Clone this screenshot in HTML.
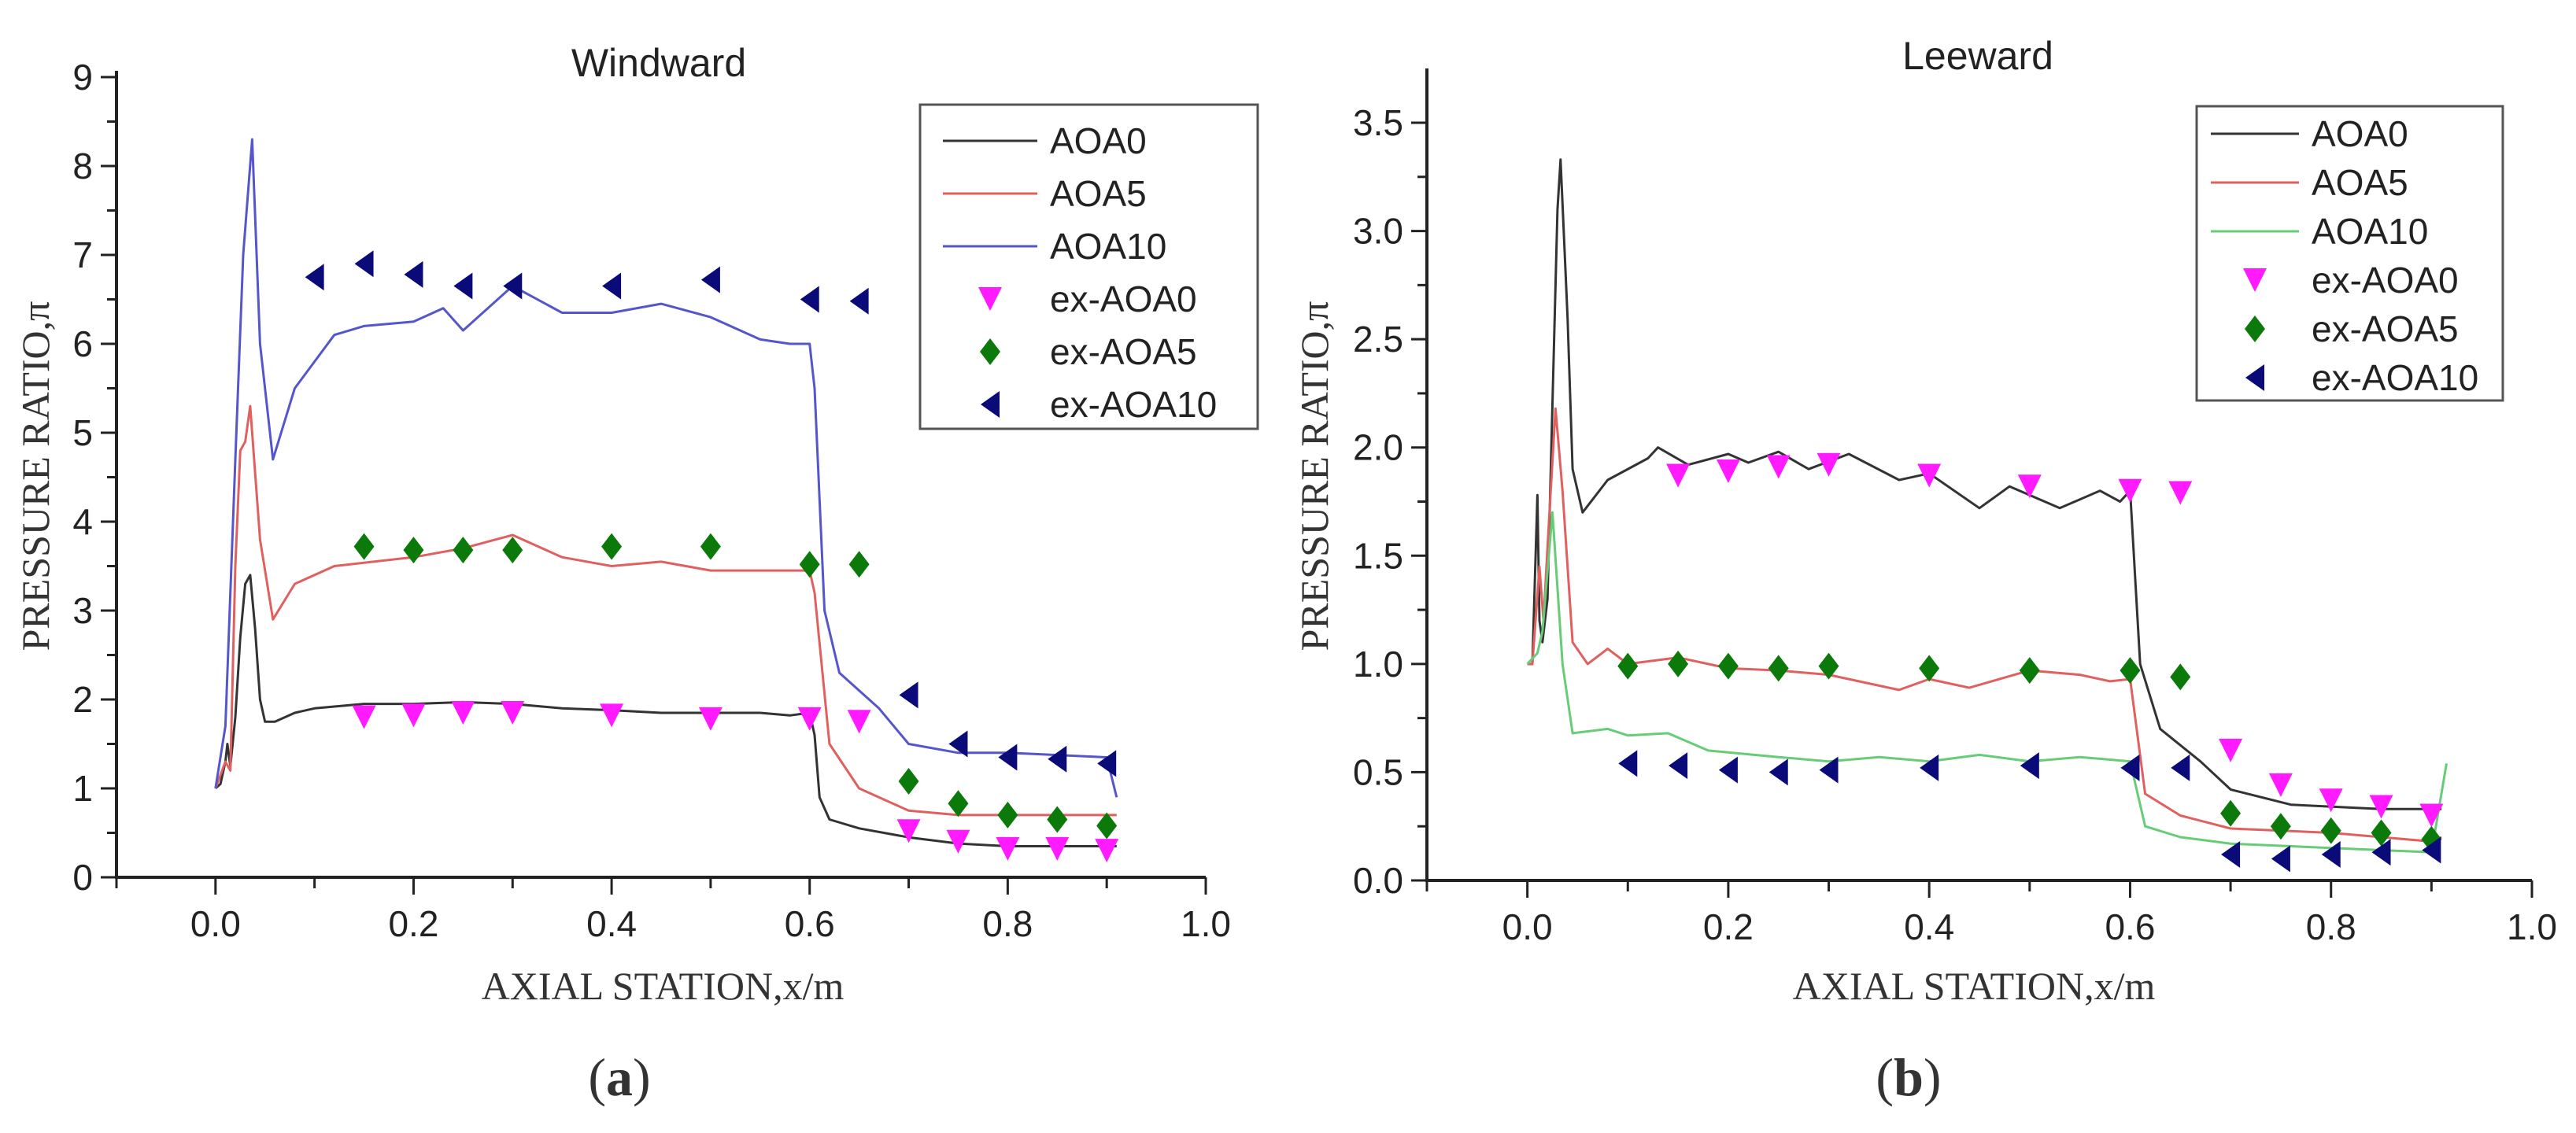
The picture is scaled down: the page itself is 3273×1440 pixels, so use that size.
<!DOCTYPE html>
<html><head><meta charset="utf-8"><style>
html,body{margin:0;padding:0;background:#fff;width:3273px;height:1440px;overflow:hidden}
svg{display:block}
.t{font-family:"Liberation Sans Narrow","Liberation Sans",sans-serif;fill:#222}
.s{font-family:"Liberation Serif",serif;fill:#333}
</style></head><body>
<svg id="fig" width="3273" height="1440" viewBox="0 0 3273 1440" xmlns="http://www.w3.org/2000/svg"></svg>
<script>
// ---- Windward data ----
const wAoa0X=[0,0.005,0.01,0.012,0.015,0.02,0.025,0.03,0.035,0.04,0.045,0.05,0.06,0.08,0.1,0.15,0.2,0.25,0.3,0.35,0.4,0.45,0.5,0.55,0.58,0.6,0.605,0.61,0.62,0.65,0.7,0.75,0.8,0.85,0.9,0.91];
const wAoa0Y=[1,1.05,1.3,1.5,1.25,1.8,2.7,3.3,3.4,2.8,2.0,1.75,1.75,1.85,1.9,1.95,1.95,1.97,1.95,1.9,1.88,1.85,1.85,1.85,1.82,1.85,1.6,0.9,0.65,0.55,0.45,0.38,0.35,0.35,0.35,0.35];
const wAoa5X=[0,0.01,0.015,0.02,0.025,0.03,0.035,0.045,0.058,0.08,0.12,0.2,0.25,0.3,0.35,0.4,0.45,0.5,0.55,0.6,0.605,0.62,0.65,0.7,0.75,0.8,0.9,0.91];
const wAoa5Y=[1,1.3,1.2,3.5,4.8,4.9,5.3,3.8,2.9,3.3,3.5,3.6,3.7,3.85,3.6,3.5,3.55,3.45,3.45,3.45,3.2,1.5,1.0,0.75,0.7,0.7,0.7,0.7];
const wAoa10X=[0,0.01,0.02,0.028,0.037,0.045,0.058,0.08,0.1,0.12,0.15,0.2,0.23,0.25,0.3,0.35,0.4,0.45,0.5,0.55,0.58,0.6,0.605,0.615,0.63,0.67,0.7,0.75,0.8,0.9,0.91];
const wAoa10Y=[1,1.7,4.7,7.0,8.3,6.0,4.7,5.5,5.8,6.1,6.2,6.25,6.4,6.15,6.65,6.35,6.35,6.45,6.3,6.05,6.0,6.0,5.5,3.0,2.3,1.9,1.5,1.4,1.4,1.35,0.9];
const wExX=[0.15,0.2,0.25,0.3,0.4,0.5,0.6,0.65,0.7,0.75,0.8,0.85,0.9];
const wEx0Y=[1.8,1.82,1.85,1.85,1.82,1.78,1.78,1.75,0.52,0.4,0.32,0.32,0.3];
const wEx5Y=[3.72,3.68,3.68,3.68,3.72,3.72,3.52,3.52,1.08,0.83,0.7,0.65,0.58];
const wEx10X=[0.1,0.15,0.2,0.25,0.3,0.4,0.5,0.6,0.65,0.7,0.75,0.8,0.85,0.9];
const wEx10Y=[6.75,6.9,6.78,6.65,6.65,6.65,6.72,6.5,6.48,2.05,1.5,1.35,1.33,1.28];
const wYTicks=[0,1,2,3,4,5,6,7,8,9];
// ---- Leeward data ----
const lAoa0X=[0,0.005,0.01,0.012,0.015,0.02,0.025,0.03,0.033,0.04,0.045,0.055,0.08,0.12,0.13,0.16,0.2,0.22,0.25,0.28,0.32,0.37,0.4,0.45,0.48,0.53,0.57,0.59,0.6,0.61,0.63,0.67,0.7,0.76,0.85,0.91];
const lAoa0Y=[1.0,1.0,1.78,1.2,1.1,1.3,2.2,3.1,3.33,2.6,1.9,1.7,1.85,1.95,2.0,1.92,1.97,1.93,1.98,1.9,1.97,1.85,1.88,1.72,1.82,1.72,1.8,1.75,1.8,1.0,0.7,0.55,0.42,0.35,0.33,0.33];
const lAoa5X=[0,0.005,0.012,0.016,0.022,0.028,0.035,0.045,0.06,0.08,0.1,0.15,0.2,0.25,0.3,0.37,0.4,0.44,0.5,0.55,0.58,0.6,0.615,0.65,0.7,0.8,0.9,0.91];
const lAoa5Y=[1.0,1.0,1.45,1.2,1.7,2.18,1.8,1.1,1.0,1.07,1.0,1.03,0.98,0.97,0.95,0.88,0.93,0.89,0.97,0.95,0.92,0.93,0.4,0.3,0.24,0.22,0.18,0.2];
const lAoa10X=[0,0.01,0.015,0.025,0.035,0.045,0.08,0.1,0.14,0.18,0.25,0.3,0.35,0.4,0.45,0.5,0.55,0.6,0.615,0.65,0.7,0.8,0.9,0.915];
const lAoa10Y=[1.0,1.05,1.15,1.7,1.0,0.68,0.7,0.67,0.68,0.6,0.57,0.55,0.57,0.55,0.58,0.55,0.57,0.55,0.25,0.2,0.17,0.15,0.13,0.54];
const lEx0X=[0.15,0.2,0.25,0.3,0.4,0.5,0.6,0.65,0.7,0.75,0.8,0.85,0.9];
const lEx0Y=[1.87,1.89,1.91,1.92,1.87,1.82,1.8,1.79,0.6,0.44,0.37,0.34,0.3];
const lExX=[0.1,0.15,0.2,0.25,0.3,0.4,0.5,0.6,0.65,0.7,0.75,0.8,0.85,0.9];
const lEx5Y=[0.99,1.0,0.99,0.98,0.99,0.98,0.97,0.97,0.94,0.31,0.25,0.23,0.22,0.19];
const lEx10Y=[0.54,0.53,0.51,0.5,0.51,0.52,0.53,0.52,0.52,0.12,0.1,0.12,0.13,0.14];
const lYTicks=[0,0.5,1,1.5,2,2.5,3,3.5];
const xTicks=[0,0.2,0.4,0.6,0.8,1.0];

const NS='http://www.w3.org/2000/svg';
const svg=document.getElementById('fig');
function mk(tag,attrs,parent){const e=document.createElementNS(NS,tag);for(const k in attrs)e.setAttribute(k,attrs[k]);(parent||svg).appendChild(e);return e;}

function chart(cfg){
  const g=mk('g',{});
  
  
  const sx=v=>cfg.x0+(v-(-0.1))*(cfg.x1-cfg.x0)/1.1;
  const sy=v=>cfg.y0-(v-0)*(cfg.y0-cfg.yTopV)/cfg.yTopVal;
  const ax=mk('path',{d:`M${sx(-0.1)},${cfg.axTop} L${sx(-0.1)},${cfg.y0} L${sx(1.0)},${cfg.y0}`,fill:'none',stroke:'#222','stroke-width':4},g);
  
  for(let i=-1;i<=10;i++){const v=i/10;const maj=i%2===0;
    mk('line',{x1:sx(v),x2:sx(v),y1:cfg.y0,y2:cfg.y0+(maj?22:14),stroke:'#222','stroke-width':3},g);}
  xTicks.forEach(v=>{const t=mk('text',{x:sx(v),y:cfg.y0+75,'text-anchor':'middle','font-size':46,class:'t'},g);t.textContent=v.toFixed(1);
    });
  const ys=cfg.yTicks;
  for(let i=0;i<ys.length;i++){const v=ys[i];
    mk('line',{x1:sx(-0.1)-20,x2:sx(-0.1),y1:sy(v),y2:sy(v),stroke:'#222','stroke-width':3},g);
    if(i<ys.length-1){const m=(ys[i]+ys[i+1])/2;mk('line',{x1:sx(-0.1)-12,x2:sx(-0.1),y1:sy(m),y2:sy(m),stroke:'#222','stroke-width':3},g);}
    const t=mk('text',{x:sx(-0.1)-30,y:sy(v)+16,'text-anchor':'end','font-size':46,class:'t'},g);
    t.textContent=cfg.yFmt(v);}
  let t=mk('text',{x:cfg.titleX,y:cfg.titleY,'text-anchor':'middle','font-size':50,class:'t'},g);t.textContent=cfg.title;
  
  t=mk('text',{x:cfg.xtX,y:1270,'text-anchor':'middle','font-size':50,class:'s'},g);t.textContent='AXIAL STATION,x/m';
  
  t=mk('text',{x:0,y:0,'text-anchor':'middle','font-size':50,class:'s',transform:`translate(${cfg.ytX},${cfg.ytY}) rotate(-90)`},g);t.textContent='PRESSURE RATIO,π';
  
  t=mk('text',{x:cfg.capX,y:1392,'text-anchor':'middle','font-size':68,class:'s'},g);
  t.innerHTML='(<tspan font-weight="bold">'+cfg.cap+'</tspan>)';
  
  cfg.lines.forEach(L=>{const d=L.x.map((v,i)=>(i?'L':'M')+sx(v).toFixed(1)+','+sy(L.y[i]).toFixed(1)).join(' ');
    const p=mk('path',{d,fill:'none',stroke:L.c,'stroke-width':3,'stroke-linejoin':'round'},g);
    });
  cfg.marks.forEach(M=>{M.x.forEach((v,i)=>{const e=marker(M.t,sx(v),sy(M.y[i]),M.c,g);
    });});
  const lg=mk('g',{},g);
  const b=cfg.leg;
  mk('rect',{x:b.x,y:b.y,width:b.w,height:b.h,fill:'#fff',stroke:'#555','stroke-width':3},lg);
  cfg.legItems.forEach((it,i)=>{const cy=b.first+i*b.step;
    if(it.line){mk('line',{x1:b.lx1,x2:b.lx2,y1:cy,y2:cy,stroke:it.c,'stroke-width':3},lg);}
    else marker(it.t,(b.lx1+b.lx2)/2,cy,it.c,lg);
    const tt=mk('text',{x:b.tx,y:cy+16,'font-size':46,class:'t'},lg);tt.textContent=it.n;
    });
}
function marker(type,x,y,c,parent){
  const r=15;let pts;
  if(type==='down')pts=[[x-r,y-r],[x+r,y-r],[x,y+r]];
  else if(type==='diamond')pts=[[x,y-r-2],[x+r-2,y],[x,y+r+2],[x-r+2,y]];
  else pts=[[x+r-3,y-r-2],[x+r-3,y+r+2],[x-r+3,y]];
  return mk('polygon',{points:pts.map(p=>p.join(',')).join(' '),fill:c},parent);
}
const MAG='#ff1aff',GRN='#0b7a0b',NAV='#0a0a78';
chart({name:'windward-chart',x0:148,x1:1532,y0:1115,yTopV:98,yTopVal:9,axTop:90,yTicks:wYTicks,yFmt:v=>String(v),
  title:'Windward',titleX:837,titleY:97,xtX:842,ytX:62,ytY:605,capX:787,cap:'a',
  lines:[{x:wAoa0X,y:wAoa0Y,c:'#333',n:'aoa0-line'},{x:wAoa5X,y:wAoa5Y,c:'#e06060',n:'aoa5-line'},{x:wAoa10X,y:wAoa10Y,c:'#5555cc',n:'aoa10-line'}],
  marks:[{t:'down',x:wExX,y:wEx0Y,c:MAG,n:'ex-aoa0'},{t:'diamond',x:wExX,y:wEx5Y,c:GRN,n:'ex-aoa5'},{t:'left',x:wEx10X,y:wEx10Y,c:NAV,n:'ex-aoa10'}],
  leg:{x:1169,y:133,w:429,h:412,first:179,step:67,lx1:1198,lx2:1318,tx:1334},
  legItems:[{line:1,c:'#333',n:'AOA0'},{line:1,c:'#e06060',n:'AOA5'},{line:1,c:'#5555cc',n:'AOA10'},{t:'down',c:MAG,n:'ex-AOA0'},{t:'diamond',c:GRN,n:'ex-AOA5'},{t:'left',c:NAV,n:'ex-AOA10'}]});
chart({name:'leeward-chart',x0:1813,x1:3217,y0:1119,yTopV:156,yTopVal:3.5,axTop:87,yTicks:lYTicks,yFmt:v=>v.toFixed(1),
  title:'Leeward',titleX:2513,titleY:88,xtX:2508,ytX:1687,ytY:605,capX:2425,cap:'b',
  lines:[{x:lAoa0X,y:lAoa0Y,c:'#333',n:'aoa0-line'},{x:lAoa5X,y:lAoa5Y,c:'#e06060',n:'aoa5-line'},{x:lAoa10X,y:lAoa10Y,c:'#66cc77',n:'aoa10-line'}],
  marks:[{t:'down',x:lEx0X,y:lEx0Y,c:MAG,n:'ex-aoa0'},{t:'diamond',x:lExX,y:lEx5Y,c:GRN,n:'ex-aoa5'},{t:'left',x:lExX,y:lEx10Y,c:NAV,n:'ex-aoa10'}],
  leg:{x:2791,y:135,w:389,h:374,first:170,step:62,lx1:2809,lx2:2921,tx:2937},
  legItems:[{line:1,c:'#333',n:'AOA0'},{line:1,c:'#e06060',n:'AOA5'},{line:1,c:'#66cc77',n:'AOA10'},{t:'down',c:MAG,n:'ex-AOA0'},{t:'diamond',c:GRN,n:'ex-AOA5'},{t:'left',c:NAV,n:'ex-AOA10'}]});
</script>
</body></html>
